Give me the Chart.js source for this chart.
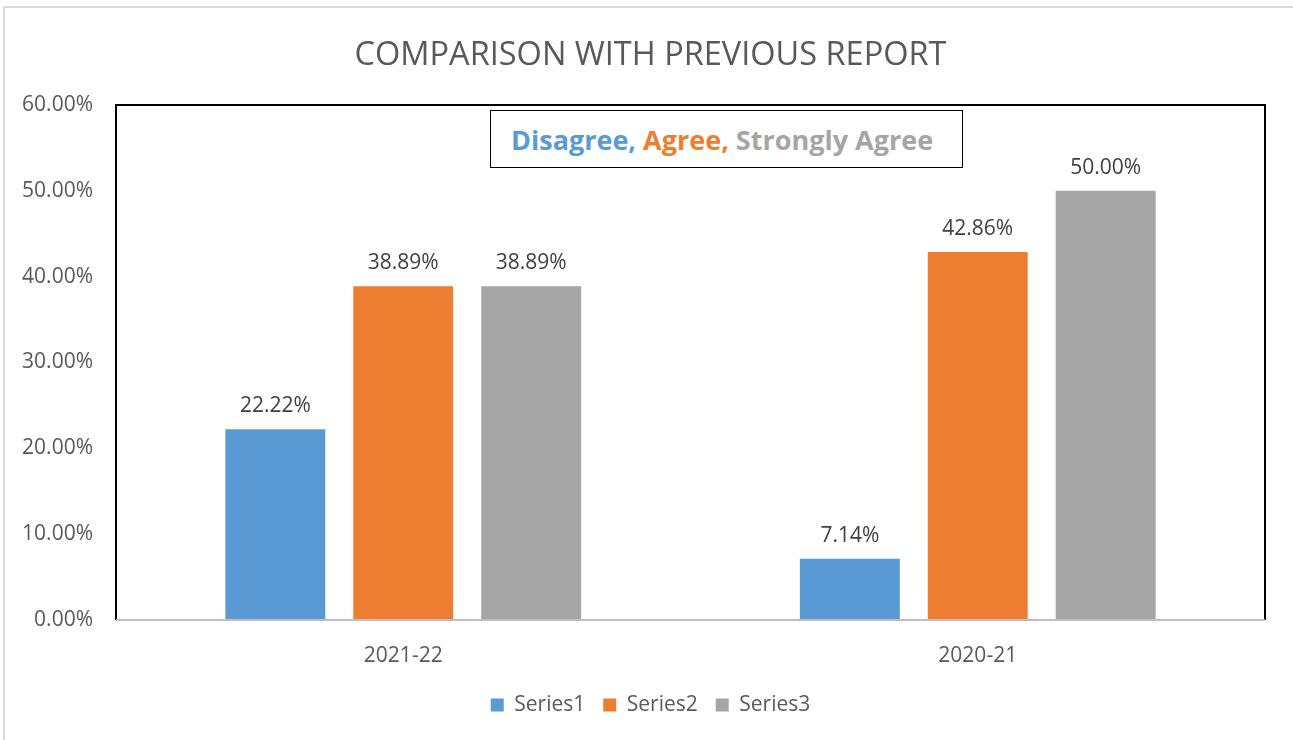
<!DOCTYPE html>
<html>
<head>
<meta charset="utf-8">
<script src="https://cdn.jsdelivr.net/npm/chart.js@4"></script>
<style>
  html, body { margin:0; padding:0; background:#fff; }
  #wrap { position:relative; width:1293px; height:740px; }
  #note {
    position:absolute; left:490px; top:110px; width:473px; height:58px;
    border:1.5px solid #000; background:#fff; box-sizing:border-box;
    font-family:"Open Sans", sans-serif; font-weight:bold; font-size:27px;
    line-height:58px; padding-left:20px; white-space:nowrap;
  }
</style>
</head>
<body>
<div id="wrap">
  <canvas id="chart" width="1293" height="740"></canvas>
  <div id="note"><span style="color:#5B9BD5">Disagree, </span><span style="color:#ED7D31">Agree, </span><span style="color:#A5A5A5">Strongly Agree</span></div>
</div>
<script>
// chart data
const categories = ['2021-22', '2020-21'];
const series1 = [22.22, 7.14];
const series2 = [38.89, 42.86];
const series3 = [38.89, 50.00];
const seriesNames = ['Series1', 'Series2', 'Series3'];
const seriesColors = ['#5B9BD5', '#ED7D31', '#A5A5A5'];

const FONT = '"Open Sans", sans-serif';

// outer frame + plot frame
const framePlugin = {
  id: 'frame',
  afterLayout(chart){
    // title and legend are centred on the whole page, not the plot
    const dx = 18;
    chart.titleBlock.left += dx; chart.titleBlock.right += dx;
    chart.legend.left += dx; chart.legend.right += dx;
  },
  beforeDraw(chart){
    const c = chart.ctx;
    c.save();
    c.strokeStyle = '#d9d9d9';
    c.lineWidth = 2;
    c.beginPath();
    c.moveTo(4, 740); c.lineTo(4, 7); c.lineTo(1293, 7);
    c.stroke();
    c.restore();
  },
  afterDraw(chart){
    const a = chart.chartArea, c = chart.ctx;
    c.save();
    c.strokeStyle = '#000';
    c.lineWidth = 2;
    c.beginPath();
    c.moveTo(a.left, a.bottom); c.lineTo(a.left, a.top);
    c.lineTo(a.right, a.top); c.lineTo(a.right, a.bottom);
    c.stroke();
    c.strokeStyle = '#bfbfbf';
    c.beginPath();
    c.moveTo(a.left, a.bottom); c.lineTo(a.right, a.bottom);
    c.stroke();
    c.restore();
  }
};

// value labels above bars
const labelPlugin = {
  id: 'valueLabels',
  afterDatasetsDraw(chart){
    const c = chart.ctx;
    c.save();
    c.font = '21px ' + FONT;
    c.fillStyle = '#404040';
    c.textAlign = 'center';
    c.textBaseline = 'middle';
    chart.data.datasets.forEach((ds, i) => {
      chart.getDatasetMeta(i).data.forEach((bar, j) => {
        c.fillText(ds.data[j].toFixed(2) + '%', bar.x, bar.y - 23);
      });
    });
    c.restore();
  }
};

const datasets = [series1, series2, series3].map((d, i) => ({
  label: seriesNames[i],
  data: d,
  backgroundColor: seriesColors[i],
  barPercentage: 0.78125,
  categoryPercentage: 0.668
}));

new Chart(document.getElementById('chart'), {
  type: 'bar',
  data: { labels: categories, datasets },
  plugins: [framePlugin, labelPlugin],
  options: {
    responsive: false,
    animation: false,
    layout: { padding: { left: 0, right: 28, top: 36, bottom: 14.5 } },
    plugins: {
      title: {
        display: true,
        text: 'COMPARISON WITH PREVIOUS REPORT',
        color: '#595959',
        font: { family: FONT, size: 32.5, weight: 'normal' },
        padding: { top: 0, bottom: 30 }
      },
      legend: {
        position: 'bottom',
        labels: {
          color: '#595959',
          font: { family: FONT, size: 21 },
          boxWidth: 13, boxHeight: 13,
          padding: 18
        }
      },
      tooltip: { enabled: false }
    },
    scales: {
      x: {
        grid: { display: false, drawTicks: false },
        border: { display: false },
        ticks: { color: '#595959', font: { family: FONT, size: 21 }, padding: 23 },
        afterFit(s){ s.height = 56.5; }
      },
      y: {
        min: 0, max: 60,
        grid: { display: false, drawTicks: false },
        border: { display: false },
        ticks: {
          stepSize: 10,
          color: '#595959',
          font: { family: FONT, size: 21 },
          padding: 23,
          callback: v => v.toFixed(2) + '%'
        },
        afterFit(s){ s.width = 116; }
      }
    }
  }
});
</script>
</body>
</html>
